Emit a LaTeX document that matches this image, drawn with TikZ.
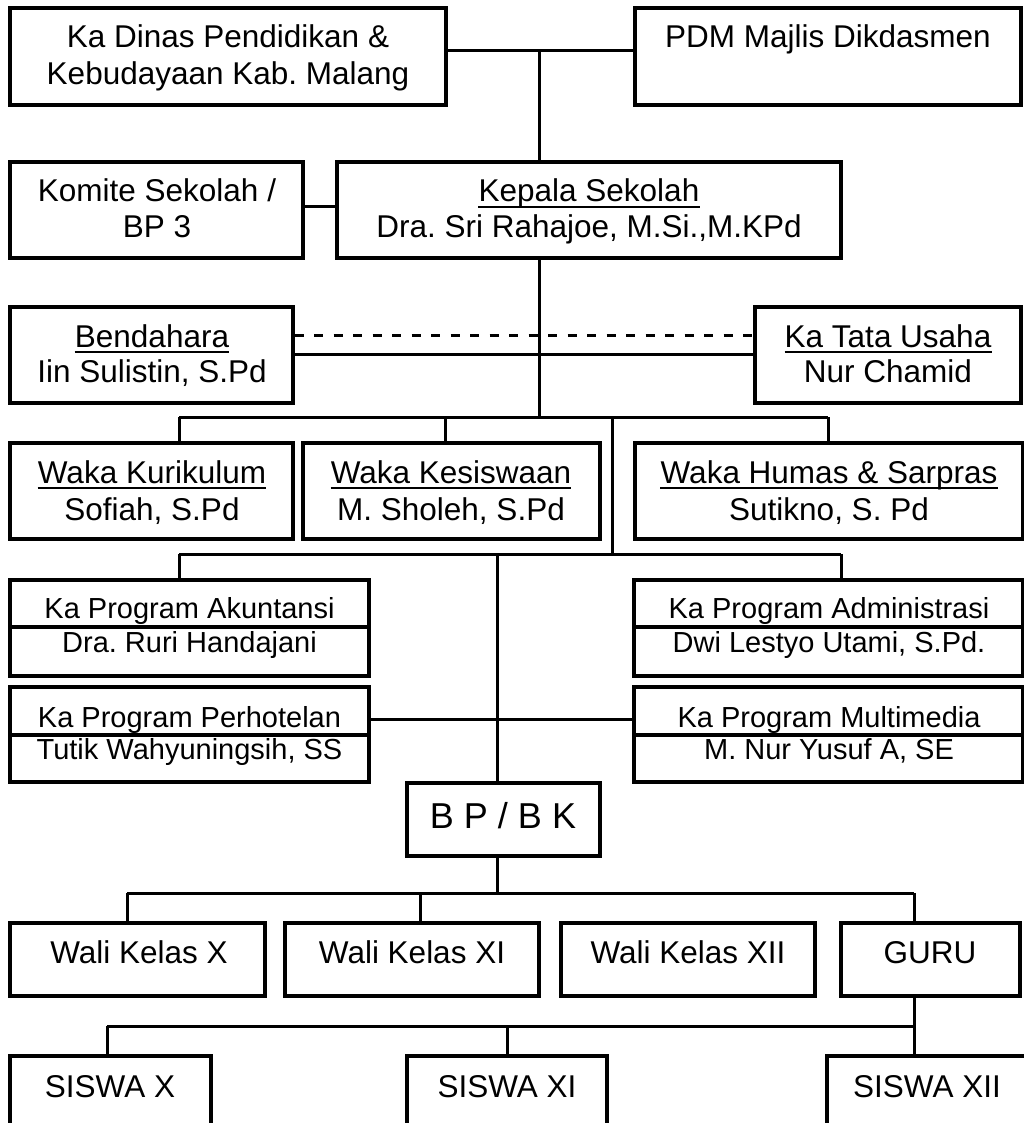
\documentclass[tikz,border=0pt]{standalone}
\usepackage{fontspec}
\setmainfont{Liberation Sans}
\frenchspacing
\begin{document}
\begin{tikzpicture}[x=1pt,y=-1pt,
  box/.style={draw, line width=3.2pt, rectangle, inner sep=0pt},
  conn/.style={line width=3pt},
  dconn/.style={line width=3pt, dash pattern=on 9pt off 10.5pt},
  txt/.style={anchor=base, inner sep=0pt, font=\fontsize{31.5}{36}\selectfont},
  stxt/.style={anchor=base, inner sep=0pt, font=\fontsize{29}{34}\selectfont},
  btxt/.style={anchor=base, inner sep=0pt, font=\fontsize{36}{40}\selectfont},
  ul/.style={line width=2.6pt}]
\useasboundingbox (0,0) rectangle (1024,1123);
\fill[white] (0,0) rectangle (1024,1123);
\newcommand\mybox[5]{\node[box, minimum width=#4-#2, minimum height=#5-#3] (#1) at ({(#2+#4)/2},{(#3+#5)/2}) {};}
% boxes
\mybox{dinas}{10}{8}{446}{105}
\mybox{pdm}{635}{8}{1021}{105}
\mybox{komite}{10}{162}{303}{258}
\mybox{kepala}{337}{162}{841}{258}
\mybox{bend}{10}{307}{293}{403}
\mybox{tu}{755}{307}{1021}{403}
\mybox{wk1}{10}{443}{293}{539}
\mybox{wk2}{303}{443}{600}{539}
\mybox{wk3}{635}{443}{1023}{539}
\mybox{akun}{10}{580}{369}{676}
\mybox{admin}{634}{580}{1023}{676}
\mybox{hotel}{10}{687}{369}{782}
\mybox{multi}{634}{687}{1023}{782}
\mybox{bpbk}{407}{783}{600}{856}
\mybox{wx}{10}{923}{265}{996}
\mybox{wxi}{285}{923}{539}{996}
\mybox{wxii}{561}{923}{815}{996}
\mybox{guru}{841}{923}{1020}{996}
\mybox{sx}{10}{1056}{211}{1140}
\mybox{sxi}{407}{1056}{607}{1140}
\mybox{sxii}{827}{1056}{1040}{1140}
% dividers in program boxes
\coordinate (dv1) at (0,627);
\coordinate (dv2) at (0,735);
\draw[box] (akun.west |- dv1) -- (akun.east |- dv1);
\draw[box] (admin.west |- dv1) -- (admin.east |- dv1);
\draw[box] (hotel.west |- dv2) -- (hotel.east |- dv2);
\draw[box] (multi.west |- dv2) -- (multi.east |- dv2);
% texts
\node[txt] (t1a) at (228,48) {Ka Dinas Pendidikan \&};
\node[txt] (t1b) at (228,85) {Kebudayaan Kab. Malang};
\node[txt] (t2a) at (828,48) {PDM Majlis Dikdasmen};
\node[txt] (t3a) at (157,202) {Komite Sekolah /};
\node[txt] (t3b) at (157,237) {BP 3};
\node[txt] (t4a) at (589,202) {Kepala Sekolah};
\node[txt] (t4b) at (589,237) {Dra. Sri Rahajoe, M.Si.,M.KPd};
\node[txt] (t5a) at (152,347) {Bendahara};
\node[txt] (t5b) at (152,382) {Iin Sulistin, S.Pd};
\node[txt] (t6a) at (888,347) {Ka Tata Usaha};
\node[txt] (t6b) at (888,382) {Nur Chamid};
\node[txt] (t7a) at (152,483) {Waka Kurikulum};
\node[txt] (t7b) at (152,520) {Sofiah, S.Pd};
\node[txt] (t8a) at (451,483) {Waka Kesiswaan};
\node[txt] (t8b) at (451,520) {M. Sholeh, S.Pd};
\node[txt] (t9a) at (829,483) {Waka Humas \& Sarpras};
\node[txt] (t9b) at (829,520) {Sutikno, S. Pd};
\node[stxt] (t10a) at (189.5,618) {Ka Program Akuntansi};
\node[stxt] (t10b) at (189.5,652) {Dra. Ruri Handajani};
\node[stxt] (t11a) at (829,618) {Ka Program Administrasi};
\node[stxt] (t11b) at (829,652) {Dwi Lestyo Utami, S.Pd.};
\node[stxt] (t12a) at (189.5,727) {Ka Program Perhotelan};
\node[stxt] (t12b) at (189.5,759) {Tutik Wahyuningsih, SS};
\node[stxt] (t13a) at (829,727) {Ka Program Multimedia};
\node[stxt] (t13b) at (829,759) {M. Nur Yusuf A, SE};
\node[btxt] (t14) at (503,828) {B P / B K};
\node[txt] (t15) at (139,963) {Wali Kelas X};
\node[txt] (t16) at (412,963) {Wali Kelas XI};
\node[txt] (t17) at (688,963) {Wali Kelas XII};
\node[txt] (t18) at (930,963) {GURU};
\node[txt] (t19) at (110,1097) {SISWA X};
\node[txt] (t20) at (507,1097) {SISWA XI};
\node[txt] (t21) at (927,1097) {SISWA XII};
% underlines
\foreach \n in {t4a,t5a,t6a,t7a,t8a,t9a}
  \draw[ul] ([yshift=-5pt]\n.base west) -- ([yshift=-5pt]\n.base east);
% connectors
\coordinate (j1) at (539,51);
\draw[conn] (dinas.east |- j1) -- (pdm.west |- j1);
\draw[conn] (j1) -- (kepala.north -| j1);
\coordinate (j2) at (0,207);
\draw[conn] (komite.east |- j2) -- (kepala.west |- j2);
\coordinate (j3) at (539,417);
\draw[conn] (kepala.south -| j3) -- (j3);
\coordinate (jd) at (0,335);
\coordinate (js) at (0,354);
\draw[dconn] (bend.east |- jd) -- (tu.west |- jd);
\draw[conn] (bend.east |- js) -- (tu.west |- js);
\coordinate (h1l) at (179,417);
\coordinate (h1r) at (828,417);
\draw[conn] (h1l) -- (h1r);
\draw[conn] (h1l) -- (wk1.north -| h1l);
\coordinate (h1m) at (445,417);
\draw[conn] (h1m) -- (wk2.north -| h1m);
\draw[conn] (h1r) -- (wk3.north -| h1r);
\coordinate (j4) at (612,417);
\coordinate (j5) at (612,554);
\draw[conn] (j4) -- (j5);
\coordinate (h2l) at (179,554);
\coordinate (h2r) at (841,554);
\draw[conn] (h2l) -- (h2r);
\draw[conn] (h2l) -- (akun.north -| h2l);
\draw[conn] (h2r) -- (admin.north -| h2r);
\coordinate (j6) at (497,554);
\draw[conn] (j6) -- (bpbk.north -| j6);
\coordinate (j7) at (0,719);
\draw[conn] (hotel.east |- j7) -- (multi.west |- j7);
\coordinate (j8) at (497,893);
\draw[conn] (bpbk.south -| j8) -- (j8);
\coordinate (h3l) at (127,893);
\coordinate (h3r) at (914,893);
\draw[conn] (h3l) -- (h3r);
\draw[conn] (h3l) -- (wx.north -| h3l);
\coordinate (h3m) at (420,893);
\draw[conn] (h3m) -- (wxi.north -| h3m);
\draw[conn] (h3r) -- (guru.north -| h3r);
\coordinate (h4r) at (914,1026);
\coordinate (h4l) at (107,1026);
\draw[conn] (guru.south -| h4r) -- (sxii.north -| h4r);
\draw[conn] (h4l) -- (h4r);
\draw[conn] (h4l) -- (sx.north -| h4l);
\coordinate (h4m) at (507,1026);
\draw[conn] (h4m) -- (sxi.north -| h4m);
\end{tikzpicture}
\end{document}
